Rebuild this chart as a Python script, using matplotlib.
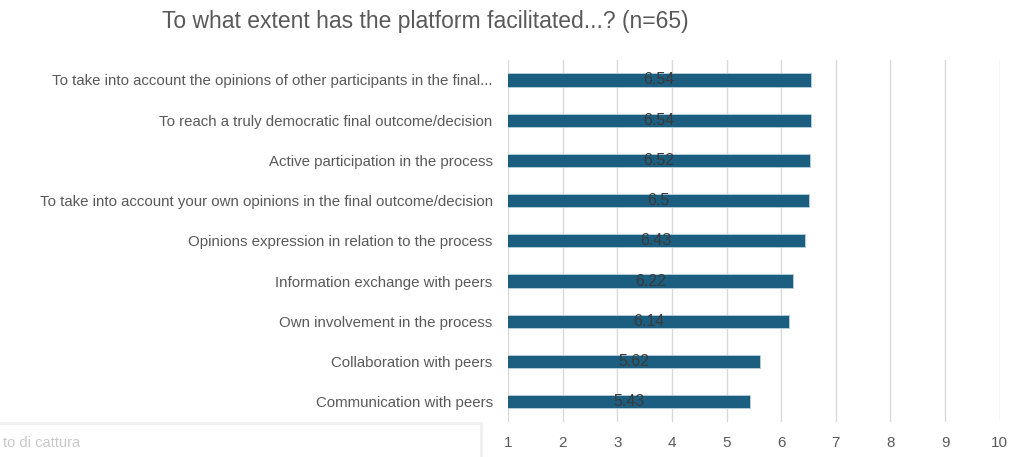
import matplotlib
matplotlib.use('Agg')
import matplotlib.pyplot as plt
import numpy as np
from matplotlib.patches import Rectangle

plt.rcParams['font.family'] = ['Liberation Sans', 'DejaVu Sans']

# ── Data ────────────────────────────────────────────────────────────
categories = [
    'To take into account the opinions of other participants in the final...',
    'To reach a truly democratic final outcome/decision',
    'Active participation in the process',
    'To take into account your own opinions in the final outcome/decision',
    'Opinions expression in relation to the process',
    'Information exchange with peers',
    'Own involvement in the process',
    'Collaboration with peers',
    'Communication with peers',
]
scores = [6.54, 6.54, 6.52, 6.5, 6.43, 6.22, 6.14, 5.62, 5.43]
xticks = [1, 2, 3, 4, 5, 6, 7, 8, 9, 10]

bar_color = '#1b5e80'
text_grey = '#595959'

fig = plt.figure(figsize=(10.16, 4.57), dpi=100)
ax = fig.add_axes([0.5, 0.077, 0.484, 0.792])

y = np.arange(len(categories))[::-1]
ax.barh(y, scores, height=0.33, color=bar_color, edgecolor='#b8d0dc',
        linewidth=0.6, zorder=3)
for yi, s in zip(y, scores):
    ax.text((1 + s) / 2, yi, f'{s:g}', ha='center', va='center',
            fontsize=11.5, color='#3a3a3a', zorder=4)

ax.set_xlim(1, 10)
ax.set_ylim(-0.5, len(categories) - 0.5)
ax.set_xticks(xticks)
ax.set_yticks(y)
ax.set_yticklabels(categories)
ax.tick_params(axis='y', length=0, pad=11, labelsize=10.8, labelcolor=text_grey)
ax.tick_params(axis='x', length=0, pad=10, labelsize=11, labelcolor=text_grey)
ax.grid(axis='x', color='#d9d9d9', linewidth=1, zorder=0)
for sp in ax.spines.values():
    sp.set_visible(False)

fig.text(0.419, 0.952, 'To what extent has the platform facilitated...? (n=65)',
         ha='center', va='center', fontsize=16.5, color=text_grey)

# screenshot overlay in the lower left corner
fig.patches.append(Rectangle((-0.01, -0.01), 0.483, 0.085, transform=fig.transFigure,
                             facecolor='white', edgecolor='#f0f0f0',
                             linewidth=2, zorder=5))
fig.text(0.003, 0.03, 'to di cattura', ha='left', va='center', fontsize=10.5,
         color='#c8c8c8', zorder=6)

plt.savefig('out.png', dpi=100, facecolor='white')
